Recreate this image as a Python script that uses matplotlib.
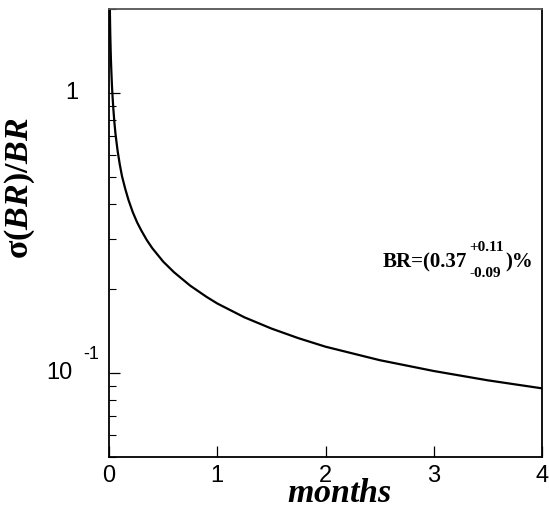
import numpy as np
import matplotlib
matplotlib.use("Agg")
import matplotlib.pyplot as plt
from matplotlib.ticker import LogLocator, NullFormatter, FixedLocator

plt.rcParams["font.family"] = ["Liberation Sans", "DejaVu Sans"]
plt.rcParams["mathtext.fontset"] = "custom"
plt.rcParams["mathtext.rm"] = "Liberation Serif:bold"
plt.rcParams["mathtext.it"] = "Liberation Serif:bold:italic"
plt.rcParams["mathtext.bf"] = "Liberation Serif:bold"

# relative error on BR vs. running time
months = [0.008, 0.01, 0.012, 0.015, 0.018, 0.022, 0.027, 0.033, 0.04, 0.05, 0.06,
          0.07, 0.08, 0.1, 0.12, 0.15, 0.18, 0.22, 0.26, 0.3, 0.35, 0.4, 0.5,
          0.6, 0.75, 0.9, 1.0, 1.25, 1.5, 1.75, 2.0, 2.5, 3.0, 3.5, 4.0]
rel_err = [2.0, 1.77, 1.61, 1.44, 1.31, 1.19, 1.07, 0.97, 0.88, 0.785, 0.715,
           0.665, 0.62, 0.555, 0.505, 0.455, 0.415, 0.375, 0.345, 0.322, 0.298, 0.279, 0.25,
           0.229, 0.205, 0.187, 0.177, 0.158, 0.144, 0.133, 0.124, 0.111, 0.1015, 0.094, 0.088]

xtick_vals = [0, 1, 2, 3, 4]
ytick_vals = [0.1, 1]
ytick_base = ["10", "1"]
ytick_exp = ["-1", ""]

br_main, br_up, br_down, br_tail = "BR=(0.37", "+0.11", "-0.09", ")%"

fig = plt.figure(figsize=(5.49, 5.08), dpi=100)
ax = fig.add_axes([109 / 549, 1 - 457 / 508, 433 / 549, 448 / 508])

ax.plot(months, rel_err, color="black", linewidth=1.6)
ax.set_yscale("log")
ax.set_xlim(0, 4)
ax.set_ylim(0.05, 2.0)

ax.xaxis.set_major_locator(FixedLocator(xtick_vals))
ax.set_xticklabels([str(v) for v in xtick_vals], fontsize=17)
ax.yaxis.set_major_locator(FixedLocator(ytick_vals))
ax.yaxis.set_minor_locator(LogLocator(base=10, subs=np.arange(2, 10)))
ax.yaxis.set_major_formatter(NullFormatter())
ax.yaxis.set_minor_formatter(NullFormatter())
ax.tick_params(which="major", direction="in", length=8, width=0.9, pad=6)
ax.tick_params(which="minor", direction="in", length=5, width=0.8)
for s in ax.spines.values():
    s.set_linewidth(1.3)
ax.spines["top"].set_color("#555555")

px = 72 / 100  # points per pixel
for v, base, ex in zip(ytick_vals, ytick_base, ytick_exp):
    gap = 37 if ex else 31
    ax.annotate(base, xy=(0, v), xycoords=("axes fraction", "data"),
                xytext=(-gap * px, 0), textcoords="offset points",
                ha="right", va="center", fontsize=17)
    if ex:
        ax.annotate(ex, xy=(0, v), xycoords=("axes fraction", "data"),
                    xytext=(-26 * px, 18 * px), textcoords="offset points",
                    ha="left", va="center", fontsize=13)

fig.text(339 / 549, 6 / 508, r"$\mathit{months}$", ha="center", va="baseline",
         fontsize=24.5)
fig.text(20 / 549, 1 - 188 / 508, r"$\mathrm{\sigma(}\mathit{BR}\mathrm{)/}\mathit{BR}$",
         rotation=90, ha="center", va="center", fontsize=24.5)

# BR annotation built from pieces so the scripts sit like the original
renderer = fig.canvas.get_renderer()
serif = dict(family="Liberation Serif", weight="bold")
base_y = 1 - 267 / 508
t1 = fig.text(383 / 549, base_y, br_main, va="baseline", fontsize=15, **serif)
x1 = t1.get_window_extent(renderer).x1 / fig.bbox.width + 2 / 549
t2 = fig.text(x1, base_y + 16 / 508, br_up, va="baseline", fontsize=11, **serif)
t3 = fig.text(x1, base_y - 10 / 508, br_down, va="baseline", fontsize=11, **serif)
x2 = max(t2.get_window_extent(renderer).x1, t3.get_window_extent(renderer).x1)
fig.text(x2 / fig.bbox.width + 1 / 549, base_y, br_tail, va="baseline", fontsize=15, **serif)

fig.savefig("out.png", dpi=100)
